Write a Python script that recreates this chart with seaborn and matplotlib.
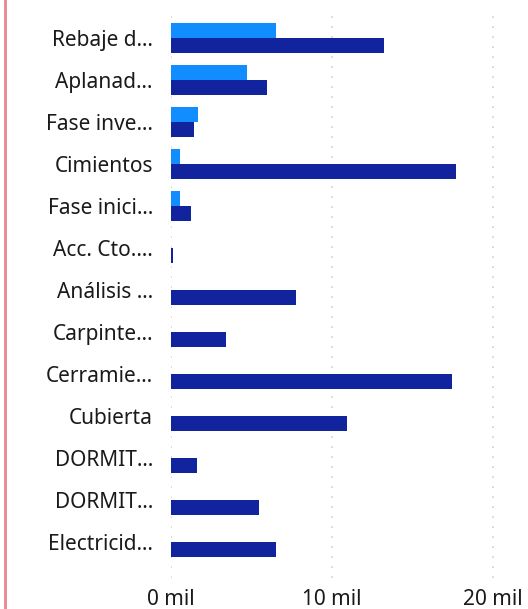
import matplotlib
matplotlib.use("Agg")
import matplotlib.pyplot as plt
import seaborn as sns
import pandas as pd
import numpy as np
from matplotlib.lines import Line2D

categories = ["Rebaje d…", "Aplanad…", "Fase inve…", "Cimientos", "Fase inici…",
              "Acc. Cto.…", "Análisis …", "Carpinte…", "Cerramie…", "Cubierta",
              "DORMIT…", "DORMIT…", "Electricid…"]
cat_ids = list(range(len(categories)))
serie_a = [6.5, 4.75, 1.7, 0.58, 0.56, np.nan, np.nan, np.nan, np.nan, np.nan, np.nan, np.nan, np.nan]
serie_b = [13.2, 5.95, 1.43, 17.7, 1.26, 0.1, 7.75, 3.42, 17.45, 10.95, 1.6, 5.47, 6.5]
series_names = ["Serie A", "Serie B"]
colors = ["#118DFF", "#12239E"]
xticks = [0, 10, 20]
xtick_labels = ["0 mil", "10 mil", "20 mil"]

rows = []
for i, a, b in zip(cat_ids, serie_a, serie_b):
    rows.append({"cat": str(i), "serie": series_names[0], "val": a})
    rows.append({"cat": str(i), "serie": series_names[1], "val": b})
df = pd.DataFrame(rows)

sns.set_theme(style="white")
plt.rcParams['font.family'] = ['Noto Sans', 'DejaVu Sans']

fig = plt.figure(figsize=(5.28, 6.09), dpi=100)
ax = fig.add_axes([171/528, 31/609, (528-171)/528, (578-10)/609])

sns.barplot(data=df, y="cat", x="val", hue="serie", order=[str(i) for i in cat_ids],
            hue_order=series_names, palette=colors, orient="h", width=0.714,
            linewidth=0, saturation=1, ax=ax, legend=False)

ax.set_xlim(0, 357/16.1)
ax.set_ylim(12 + 36/42, -28/42)
ax.set_xticks(xticks)
ax.set_xticklabels(xtick_labels)
ax.set_yticks(cat_ids)
ax.set_yticklabels(categories)
ax.set_xlabel("")
ax.set_ylabel("")
for s in ax.spines.values():
    s.set_visible(False)
ax.tick_params(axis="y", length=0, pad=13, labelsize=15, labelcolor="#1a1a1a")
ax.tick_params(axis="x", length=0, pad=8, labelsize=15, labelcolor="#1a1a1a")
ax.set_axisbelow(True)
ax.xaxis.grid(True, color="#d0d0d0", linestyle=(0, (1, 5)), linewidth=1.2)
ax.yaxis.grid(False)

fig.add_artist(Line2D([5/528, 5/528], [0, 1], color="#e8858f", linewidth=2, transform=fig.transFigure))

fig.savefig("out.png", dpi=100)
